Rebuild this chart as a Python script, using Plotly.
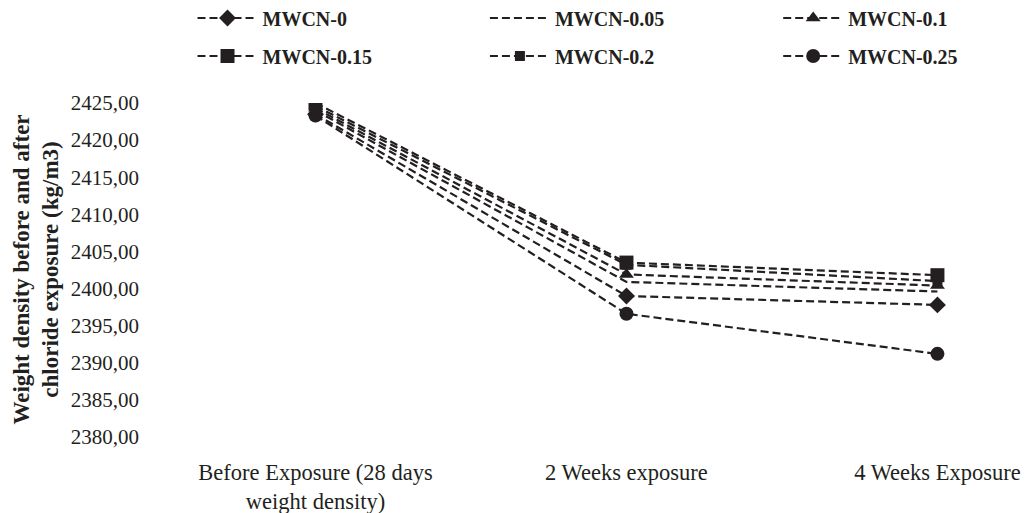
import plotly.graph_objects as go

categories = ["Before Exposure (28 days<br>weight density)", "2 Weeks exposure", "4 Weeks Exposure"]
series_names = ["MWCN-0", "MWCN-0.05", "MWCN-0.1", "MWCN-0.15", "MWCN-0.2", "MWCN-0.25"]
mwcn_0 = [2423.5, 2399.0, 2397.8]
mwcn_005 = [2424.0, 2400.9, 2399.6]
mwcn_01 = [2424.3, 2401.9, 2400.4]
mwcn_015 = [2425.0, 2403.5, 2401.8]
mwcn_02 = [2424.6, 2403.2, 2401.0]
mwcn_025 = [2423.3, 2396.6, 2391.2]

series_values = [mwcn_0, mwcn_005, mwcn_01, mwcn_015, mwcn_02, mwcn_025]
symbols = ["diamond", None, "triangle-up", "square", "square", "circle"]
sizes = [13, 0, 13, 14, 10, 14]

INK = "#231f20"
FONT = "Liberation Serif"

fig = go.Figure()
legend_ids = ["legend", "legend2", "legend3", "legend4", "legend5", "legend6"]
for name, vals, sym, sz, lg in zip(series_names, series_values, symbols, sizes, legend_ids):
    mode = "lines+markers" if sym else "lines"
    kw = dict(marker=dict(symbol=sym, size=sz, color=INK, line=dict(width=0))) if sym else {}
    fig.add_trace(go.Scatter(
        x=categories, y=vals, name=name, mode=mode, legend=lg,
        line=dict(color=INK, width=2.2, dash="8px,4px"),
        **kw,
    ))

legend_common = dict(
    orientation="h", xanchor="left", yanchor="middle",
    font=dict(family=FONT, size=20, color=INK, weight="bold"),
    itemwidth=60, bgcolor="rgba(0,0,0,0)",
)
col_x = [0.0369, 0.3688, 0.7017]
row_y = [1.2545, 1.1407]
legend_layout = {}
for i, lg in enumerate(legend_ids):
    legend_layout[lg] = dict(x=col_x[i % 3], y=row_y[i // 3], **legend_common)

fig.update_layout(
    width=1033, height=513,
    margin=dict(l=152, r=0, t=95, b=84, pad=0, autoexpand=False),
    paper_bgcolor="white", plot_bgcolor="white",
    separators=",.",
    font=dict(family=FONT, size=21, color=INK),
    showlegend=True,
    **legend_layout,
    xaxis=dict(
        type="category", range=[-0.5, 2.333], showgrid=False, zeroline=False,
        showline=False, ticks="", tickfont=dict(family=FONT, size=22.5, color=INK),
        ticklabelstandoff=19,
    ),
    yaxis=dict(
        range=[2380, 2425], dtick=5, tick0=2380, tickformat=".2f",
        showgrid=False, zeroline=False, showline=False, ticks="",
        tickfont=dict(family=FONT, size=21, color=INK), ticklabelstandoff=20,
    ),
    annotations=[dict(
        text="<b>Weight density before and after<br>chloride exposure (kg/m3)</b>",
        xref="paper", yref="paper", x=0, y=0.5, xanchor="center", yanchor="middle",
        xshift=-124.5, textangle=-90, showarrow=False,
        font=dict(family=FONT, size=23, color=INK),
    )],
)

fig.write_html("out.html")
